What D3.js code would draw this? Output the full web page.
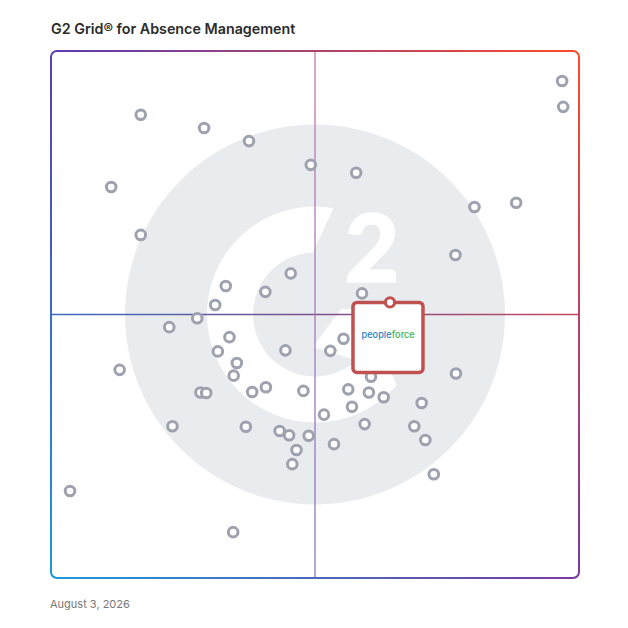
<!DOCTYPE html>
<html><head><meta charset="utf-8">
<script src="https://cdn.jsdelivr.net/npm/d3@7"></script>
<style>html,body{margin:0;padding:0;background:#fff;} svg{display:block;}</style>
</head><body>
<svg id="chart" width="628" height="628"></svg>
<script>
// ---------- data ----------
const title = "G2 Grid® for Absence Management";
const dateLabel = "August 3, 2026";
// Satisfaction (x) and Market Presence (y), 0-100 scale
const satisfaction = [96.8, 97.0, 17.0, 29.0, 37.5, 49.2, 57.8, 11.4, 88.1, 80.2,
  17.0, 76.6, 45.4, 33.1, 40.6, 58.9, 31.1, 27.7, 22.4, 33.8,
  55.4, 31.6, 44.4, 52.9, 35.2, 13.0, 34.6, 60.6, 76.7, 40.7,
  28.3, 29.4, 38.1, 47.8, 56.3, 60.2, 63.0, 57.0, 70.2, 51.7,
  23.0, 36.9, 43.3, 45.1, 48.8, 59.4, 68.8, 70.9, 53.6, 46.5,
  45.7, 72.5, 3.6, 34.5];
const marketPresence = [94.3, 89.4, 87.9, 85.4, 82.9, 78.4, 76.9, 74.2, 71.2, 70.4,
  65.1, 61.3, 57.8, 55.4, 54.3, 54.0, 51.8, 49.3, 47.6, 45.7,
  45.4, 43.0, 43.2, 43.1, 40.8, 39.5, 38.4, 38.2, 38.8, 36.2,
  35.2, 35.1, 35.3, 35.5, 35.8, 35.2, 34.3, 32.5, 33.2, 31.0,
  28.8, 28.7, 27.9, 27.1, 27.0, 29.2, 28.8, 26.2, 25.4, 24.3,
  21.6, 19.7, 16.5, 8.7];
const featuredParts = ["people", "force"];
const featuredX = [64.2];
const featuredY = [52.3];

// ---------- setup ----------
const svg = d3.select("#chart");
const L = 51, R = 579, T = 51, B = 578;
const x = d3.scaleLinear().domain([0, 100]).range([L, R]);
const y = d3.scaleLinear().domain([0, 100]).range([B, T]);
const cx = x(50), cy = y(50);

const defs = svg.append("defs");
function lin(id, x1, y1, x2, y2, stops) {
  const g = defs.append("linearGradient").attr("id", id)
    .attr("gradientUnits", "userSpaceOnUse")
    .attr("x1", x1).attr("y1", y1).attr("x2", x2).attr("y2", y2);
  stops.forEach(([o, c]) => g.append("stop").attr("offset", o).attr("stop-color", c));
}
lin("gLeft", 0, T, 0, B, [[0, "#5b3cb3"], [1, "#1b9ad8"]]);
lin("gRight", 0, T, 0, B, [[0, "#ff4b27"], [1, "#7b399f"]]);
lin("gFade", L, 0, R, 0, [[0, "#000"], [1, "#fff"]]);
lin("gH", L, 0, R, 0, [[0, "#3a6cc1"], [0.5, "#7c4f8f"], [1, "#c44a5a"]]);
lin("gV", 0, T, 0, B, [[0, "#c478aa"], [1, "#8a78c9"]]);

defs.append("mask").attr("id", "mRight").attr("maskUnits", "userSpaceOnUse")
  .attr("x", 0).attr("y", 0).attr("width", 628).attr("height", 628)
  .append("rect").attr("x", L - 5).attr("y", T - 5).attr("width", R - L + 10).attr("height", B - T + 10)
  .attr("fill", "url(#gFade)");
defs.append("mask").attr("id", "mFrame").attr("maskUnits", "userSpaceOnUse")
  .attr("x", 0).attr("y", 0).attr("width", 628).attr("height", 628)
  .append("rect").attr("x", L).attr("y", T).attr("width", R - L).attr("height", B - T)
  .attr("rx", 6).attr("fill", "none").attr("stroke", "#fff").attr("stroke-width", 2);

// ---------- title ----------
svg.append("text").attr("x", L).attr("y", 34)
  .attr("font-family", "Inter, 'Open Sans', sans-serif").attr("font-weight", 600)
  .attr("font-size", 14.3).attr("fill", "#2b2b2b").text(title);

// ---------- G2 watermark ----------
const wm = svg.append("g");
const grayWM = "#e9ecef";
wm.append("circle").attr("cx", cx).attr("cy", cy).attr("r", 190).attr("fill", grayWM);
wm.append("path").attr("transform", `translate(${cx},${cy})`)
  .attr("d", d3.arc().innerRadius(62).outerRadius(108).startAngle(0).endAngle(2 * Math.PI)())
  .attr("fill", "#fff");
const gap = [[25, -120], [130, -120], [130, 98], [95, 98], [53, 10], [-7, -52]];
wm.append("polygon").attr("points", gap.map(p => [cx + p[0], cy + p[1]].join(",")).join(" "))
  .attr("fill", grayWM);
wm.append("text").attr("x", cx + 57).attr("y", cy - 32.5).attr("text-anchor", "middle")
  .attr("font-family", "Lato, Inter, sans-serif").attr("font-weight", 900)
  .attr("font-size", 94).attr("fill", "#fff").attr("stroke", "#fff").attr("stroke-width", 1.5)
  .text("2");
const bar = [[26, -5.5], [100, -5.5], [80, 57.5], [-2, 32.5]];
wm.append("polygon").attr("points", bar.map(p => [cx + p[0], cy + p[1]].join(",")).join(" "))
  .attr("fill", "#fff");

// ---------- quadrant lines ----------
svg.append("line").attr("x1", L).attr("x2", R).attr("y1", cy).attr("y2", cy)
  .attr("stroke", "url(#gH)").attr("stroke-width", 1.6);
svg.append("rect").attr("x", cx - 0.65).attr("y", T).attr("width", 1.3).attr("height", B - T)
  .attr("fill", "url(#gV)");

// ---------- frame ----------
const fr = svg.append("g").attr("mask", "url(#mFrame)");
fr.append("rect").attr("x", 0).attr("y", 0).attr("width", 628).attr("height", 628).attr("fill", "url(#gLeft)");
fr.append("rect").attr("x", 0).attr("y", 0).attr("width", 628).attr("height", 628).attr("fill", "url(#gRight)")
  .attr("mask", "url(#mRight)");

// ---------- vendors ----------
const pts = satisfaction.map((v, i) => ({ x: v, y: marketPresence[i] }));
svg.append("g").selectAll("circle").data(pts).join("circle")
  .attr("cx", d => x(d.x)).attr("cy", d => y(d.y)).attr("r", 4.8)
  .attr("fill", "#fff").attr("stroke", "#9ea2ae").attr("stroke-width", 3);

// ---------- featured vendor ----------
const fx = x(featuredX[0]), fy = y(featuredY[0]);
const red = "#bf5150";
const fg = svg.append("g");
fg.append("rect").attr("x", fx - 37).attr("y", fy).attr("width", 70).attr("height", 70)
  .attr("rx", 4).attr("fill", "#fff").attr("stroke", red).attr("stroke-width", 3.5);
fg.append("circle").attr("cx", fx).attr("cy", fy).attr("r", 4.6)
  .attr("fill", "#fff").attr("stroke", red).attr("stroke-width", 3);
const logoFont = { family: "Inter, sans-serif", size: 9.2, weight: 500 };
const t1 = fg.append("text").attr("y", fy + 36)
  .attr("font-family", logoFont.family).attr("font-weight", logoFont.weight)
  .attr("font-size", logoFont.size).attr("fill", "#1c80c8").text(featuredParts[0]);
const t2 = fg.append("text").attr("y", fy + 36)
  .attr("font-family", logoFont.family).attr("font-weight", logoFont.weight)
  .attr("font-size", logoFont.size).attr("fill", "#3cb54b").text(featuredParts[1]);
const w1 = t1.node().getComputedTextLength(), w2 = t2.node().getComputedTextLength();
const startX = fx - 2 - (w1 + w2) / 2;
t1.attr("x", startX);
t2.attr("x", startX + w1 + 0.3);

// ---------- date ----------
svg.append("text").attr("x", L - 1).attr("y", 608)
  .attr("font-family", "Inter, 'Open Sans', sans-serif").attr("font-weight", 400)
  .attr("font-size", 11).attr("fill", "#777").text(dateLabel);
</script>
</body></html>
